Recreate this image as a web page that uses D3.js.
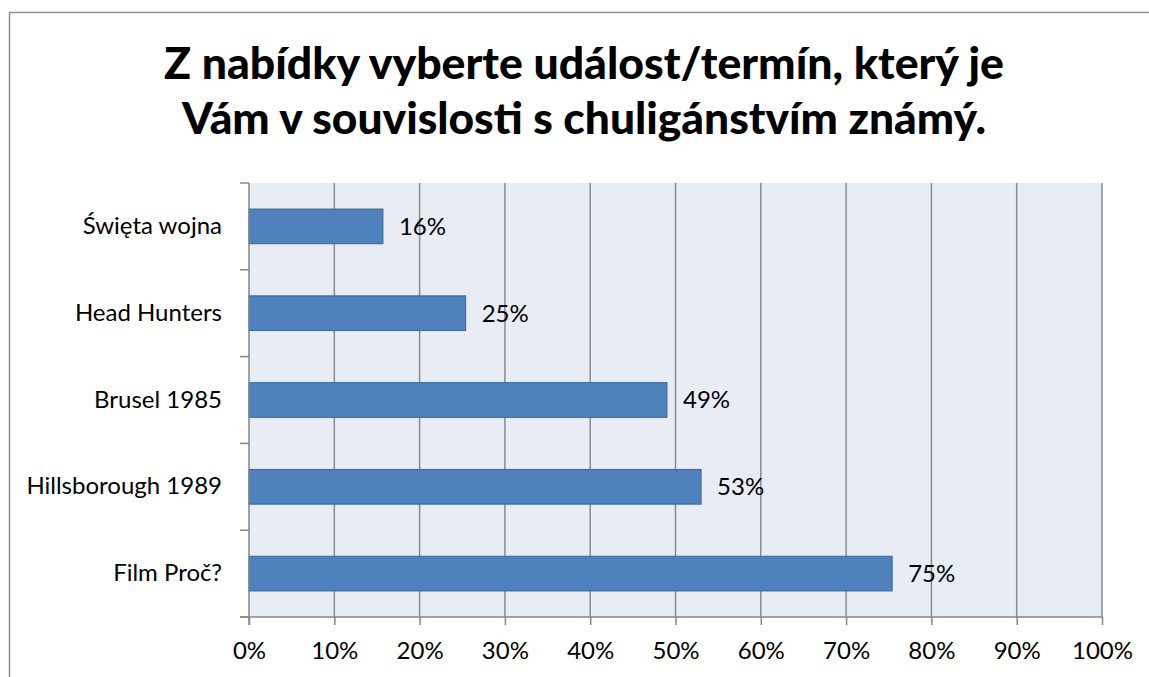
<!DOCTYPE html>
<html>
<head>
<meta charset="utf-8">
<script src="https://cdn.jsdelivr.net/npm/d3@7"></script>
<style>
  body { margin: 0; background: #fff; }
  svg { display: block; }
</style>
</head>
<body>
<script>
// data
var categories = ["Święta wojna", "Head Hunters", "Brusel 1985", "Hillsborough 1989", "Film Proč?"];
var values = [0.157, 0.254, 0.490, 0.530, 0.754];
var xTicks = [0, 0.1, 0.2, 0.3, 0.4, 0.5, 0.6, 0.7, 0.8, 0.9, 1];
var titleLines = ["Z nabídky vyberte událost/termín, který je", "Vám v souvislosti s chuligánstvím známý."];

var W = 1149, H = 677;
var plotL = 249, plotR = 1102, plotT = 183, plotB = 617;
var font = "Lato, 'Open Sans', sans-serif";

var svg = d3.select("body").append("svg")
    .attr("width", W)
    .attr("height", H);

svg.append("rect")
    .attr("width", W).attr("height", H)
    .attr("fill", "#fff");

// outer chart frame (runs off the right/bottom edge)
svg.append("rect")
    .attr("x", 9.5).attr("y", 12.5)
    .attr("width", W + 10).attr("height", H + 10)
    .attr("fill", "none")
    .attr("stroke", "#8e8e8e")
    .attr("stroke-width", 1.5);

// title
var tWidths = [840, 804];
svg.selectAll(".title")
    .data(titleLines)
    .enter()
    .append("text")
    .attr("class", "title")
    .attr("x", 584)
    .attr("y", function (d, i) { return 79 + i * 55; })
    .attr("text-anchor", "middle")
    .attr("font-family", font)
    .attr("font-weight", 900)
    .attr("font-size", 43)
    .attr("fill", "#000")
    .attr("textLength", function (d, i) { return tWidths[i]; })
    .attr("lengthAdjust", "spacingAndGlyphs")
    .text(function (d) { return d; });

var x = d3.scaleLinear().domain([0, 1]).range([plotL, plotR]);
var y = d3.scaleBand().domain(categories).range([plotT, plotB])
    .paddingInner(0.6).paddingOuter(0.3);

// plot area
svg.append("rect")
    .attr("x", plotL).attr("y", plotT)
    .attr("width", plotR - plotL).attr("height", plotB - plotT)
    .attr("fill", "#e7ecf5");

// vertical gridlines
svg.selectAll(".grid")
    .data(xTicks.slice(1))
    .enter()
    .append("line")
    .attr("x1", function (d) { return x(d); })
    .attr("x2", function (d) { return x(d); })
    .attr("y1", plotT).attr("y2", plotB)
    .attr("stroke", "#8c8c8c")
    .attr("stroke-width", 1.5);

// bars
svg.selectAll(".bar")
    .data(values)
    .enter()
    .append("rect")
    .attr("x", x(0))
    .attr("y", function (d, i) { return y(categories[i]); })
    .attr("width", function (d) { return x(d) - x(0); })
    .attr("height", y.bandwidth())
    .attr("fill", "#4f81bd")
    .attr("stroke", "#3c6896")
    .attr("stroke-width", 1);

// data labels
svg.selectAll(".lbl")
    .data(values)
    .enter()
    .append("text")
    .attr("x", function (d) { return x(d) + 16; })
    .attr("y", function (d, i) { return y(categories[i]) + y.bandwidth() / 2; })
    .attr("dy", "0.35em")
    .attr("font-family", font)
    .attr("font-size", 24)
    .attr("fill", "#000")
    .text(function (d) { return d3.format(".0%")(d); });

// x axis
var xAxis = svg.append("g")
    .attr("transform", "translate(0," + plotB + ")")
    .call(d3.axisBottom(x).tickValues(xTicks).tickFormat(d3.format(".0%")).tickSize(8).tickSizeOuter(0));
xAxis.select(".domain").remove();
xAxis.append("line")
    .attr("x1", plotL - 9).attr("x2", plotR)
    .attr("stroke", "#868686").attr("stroke-width", 1.5);
xAxis.selectAll(".tick line").attr("stroke", "#868686").attr("stroke-width", 1.5);
xAxis.selectAll(".tick text")
    .attr("font-family", font)
    .attr("font-size", 24)
    .attr("fill", "#000")
    .attr("dy", "1.3em");

// y axis
var yAxis = svg.append("g")
    .attr("transform", "translate(" + plotL + ",0)")
    .call(d3.axisLeft(y).tickSize(0).tickPadding(27));
yAxis.select(".domain").remove();
yAxis.append("line")
    .attr("y1", plotT).attr("y2", plotB + 8)
    .attr("stroke", "#868686").attr("stroke-width", 1.5);
yAxis.selectAll(".tick text")
    .attr("font-family", font)
    .attr("font-size", 24)
    .attr("fill", "#000");

// y tick marks on category boundaries
var bounds = d3.range(categories.length + 1).map(function (i) {
    return plotT + i * (plotB - plotT) / categories.length;
});
yAxis.selectAll(".btick")
    .data(bounds)
    .enter()
    .append("line")
    .attr("x1", -9).attr("x2", 0)
    .attr("y1", function (d) { return d; })
    .attr("y2", function (d) { return d; })
    .attr("stroke", "#868686").attr("stroke-width", 1.5);
</script>
</body>
</html>
